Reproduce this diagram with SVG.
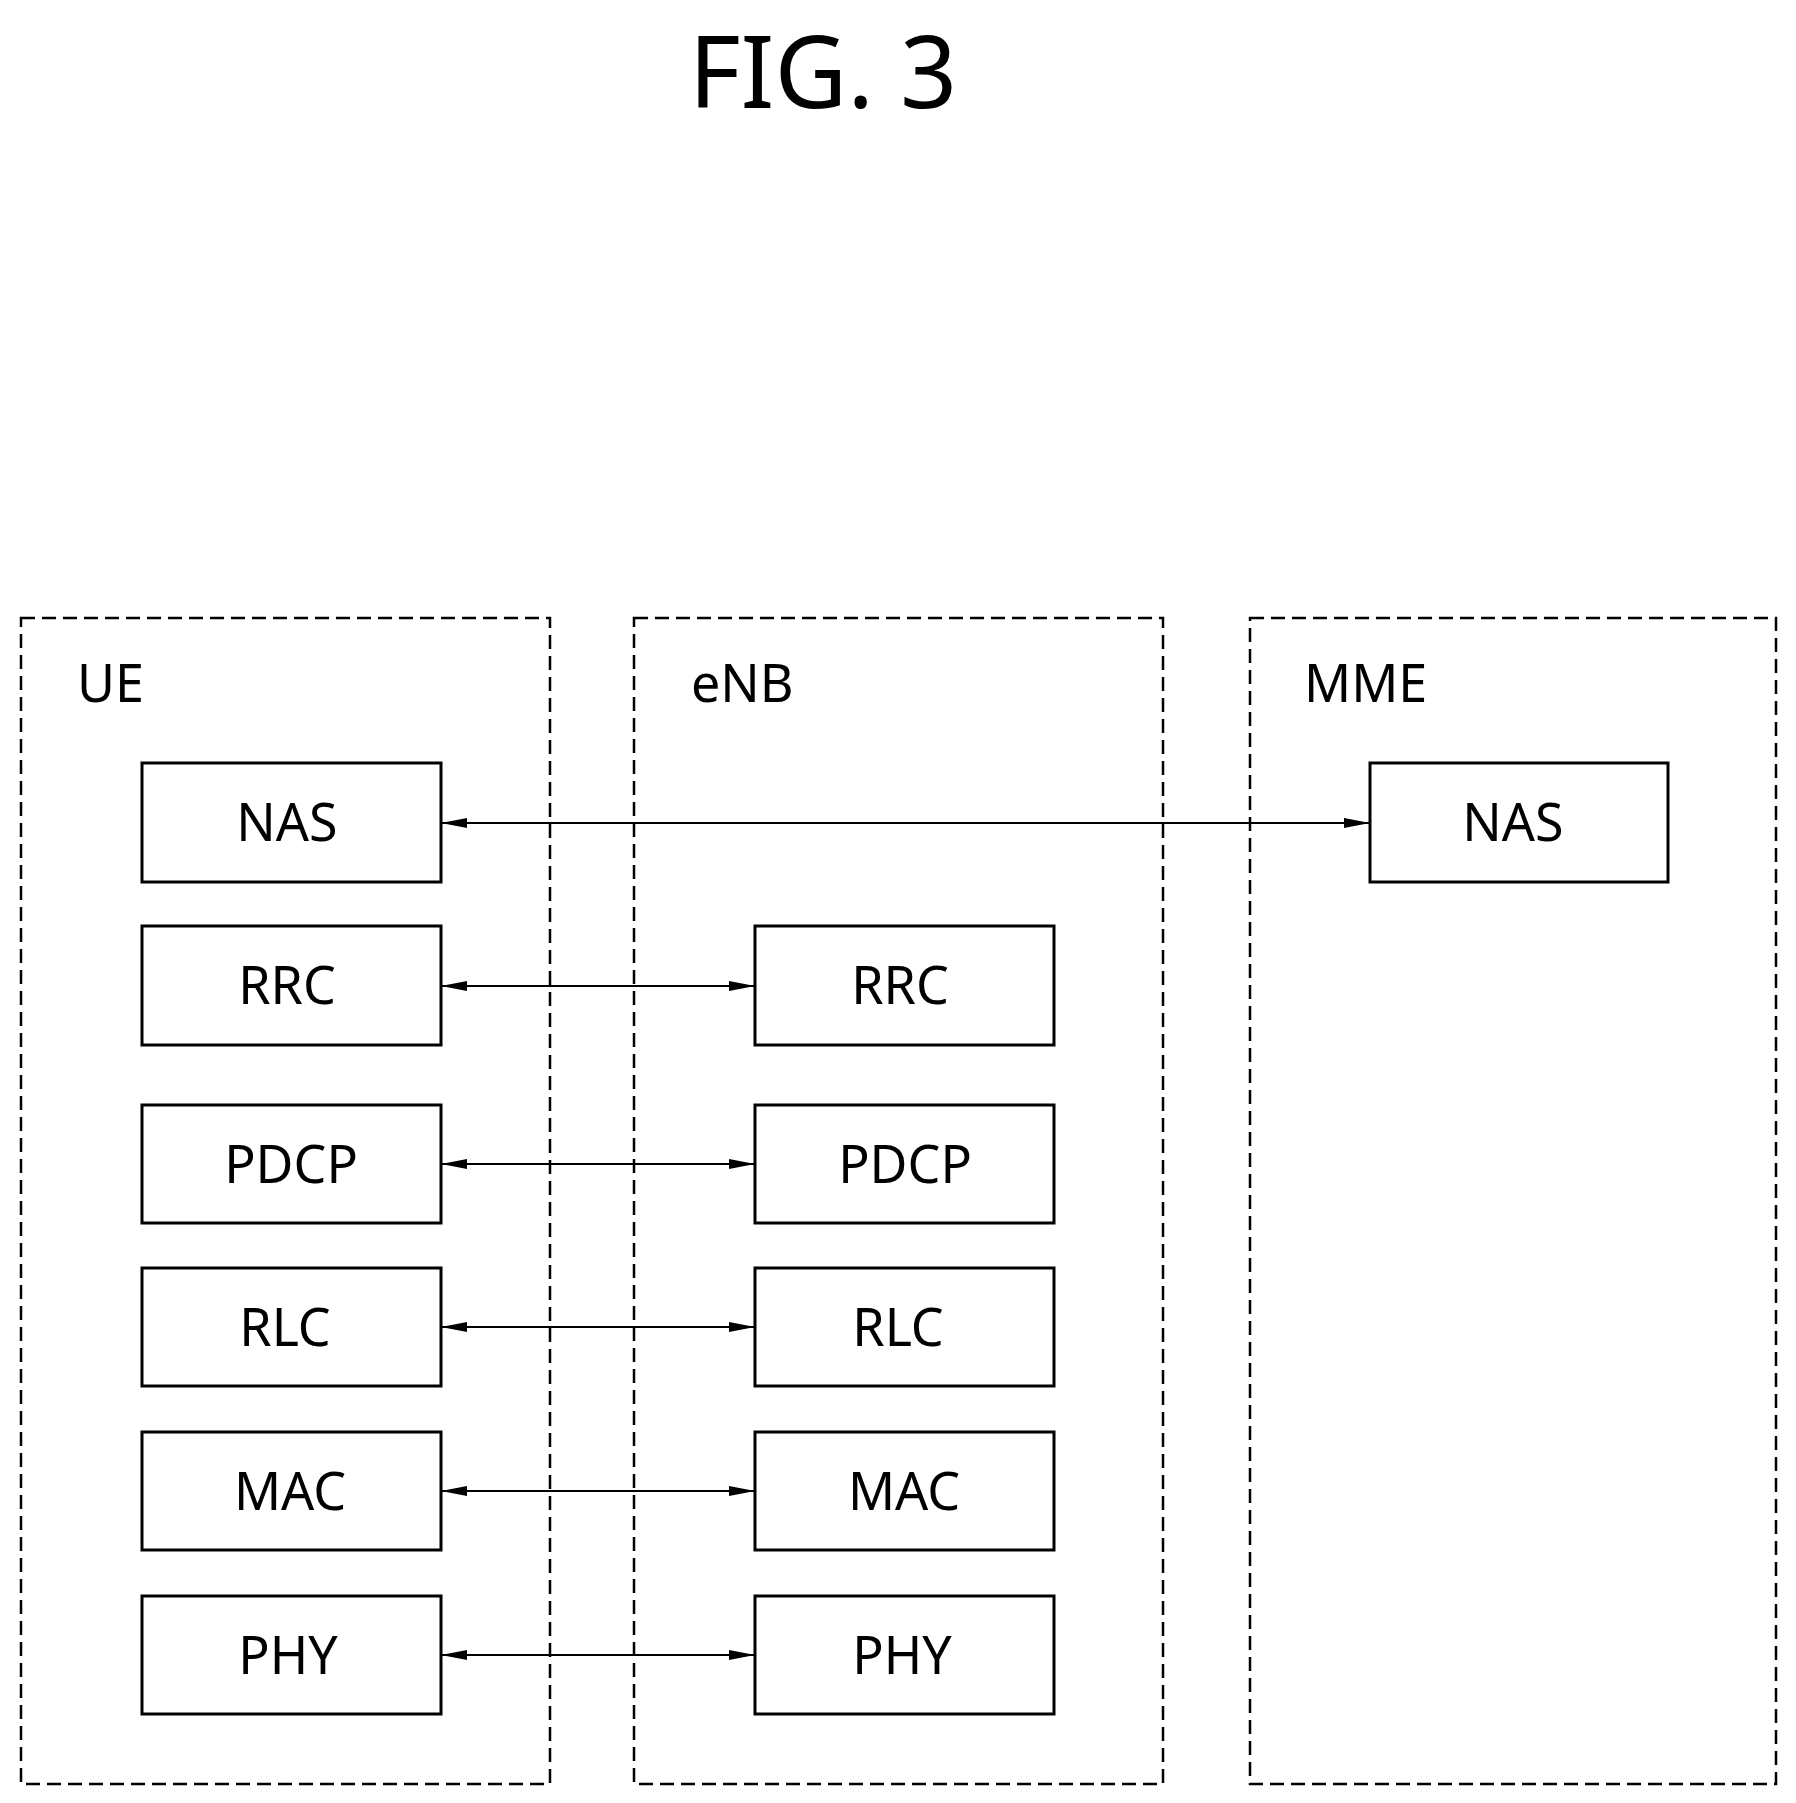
<svg xmlns="http://www.w3.org/2000/svg" width="1796" height="1803" viewBox="0 0 1796 1803">
<defs>
<style>
.outer{fill:none;stroke:#000;stroke-width:2.5;stroke-dasharray:14 7}
.box{fill:#fff;stroke:#000;stroke-width:3}
.t{font-family:"Noto Sans","Open Sans",sans-serif;font-size:52px;text-anchor:middle;fill:#000}
.l{font-family:"Noto Sans","Open Sans",sans-serif;font-size:52px;fill:#000}
.c{stroke:#000;stroke-width:2;fill:none;marker-start:url(#a);marker-end:url(#a)}
</style>
<marker id="a" viewBox="0 0 26 12" refX="26" refY="6" markerWidth="26" markerHeight="12" markerUnits="userSpaceOnUse" orient="auto-start-reverse"><path d="M0,1 L26,6 L0,11 Z" fill="#000"/></marker>
</defs>
<rect width="1796" height="1803" fill="#fff"/>
<text x="823" y="108" style="font-family:'Noto Sans','Open Sans',sans-serif;font-size:100px;text-anchor:middle">FIG. 3</text>
<g id="UE"><rect class="outer" x="21" y="618" width="529" height="1166"/><text class="l" x="77" y="702">UE</text></g>
<g id="eNB"><rect class="outer" x="634" y="618" width="529" height="1166"/><text class="l" x="691" y="702">eNB</text></g>
<g id="MME"><rect class="outer" x="1250" y="618" width="526" height="1166"/><text class="l" x="1304" y="702">MME</text></g>
<g id="ue-nas"><rect class="box" x="142" y="763" width="299" height="119"/><text class="t" x="287" y="841">NAS</text></g>
<g id="ue-rrc"><rect class="box" x="142" y="926" width="299" height="119"/><text class="t" x="287" y="1004">RRC</text></g>
<g id="ue-pdcp"><rect class="box" x="142" y="1105" width="299" height="118"/><text class="t" x="291" y="1183">PDCP</text></g>
<g id="ue-rlc"><rect class="box" x="142" y="1268" width="299" height="118"/><text class="t" x="285" y="1346">RLC</text></g>
<g id="ue-mac"><rect class="box" x="142" y="1432" width="299" height="118"/><text class="t" x="290" y="1510">MAC</text></g>
<g id="ue-phy"><rect class="box" x="142" y="1596" width="299" height="118"/><text class="t" x="288" y="1674">PHY</text></g>
<g id="enb-rrc"><rect class="box" x="755" y="926" width="299" height="119"/><text class="t" x="900" y="1004">RRC</text></g>
<g id="enb-pdcp"><rect class="box" x="755" y="1105" width="299" height="118"/><text class="t" x="905" y="1183">PDCP</text></g>
<g id="enb-rlc"><rect class="box" x="755" y="1268" width="299" height="118"/><text class="t" x="898" y="1346">RLC</text></g>
<g id="enb-mac"><rect class="box" x="755" y="1432" width="299" height="118"/><text class="t" x="904" y="1510">MAC</text></g>
<g id="enb-phy"><rect class="box" x="755" y="1596" width="299" height="118"/><text class="t" x="902" y="1674">PHY</text></g>
<g id="mme-nas"><rect class="box" x="1370" y="763" width="298" height="119"/><text class="t" x="1513" y="841">NAS</text></g>
<g id="connectors">
<line class="c" x1="441" y1="823" x2="1370" y2="823"/>
<line class="c" x1="441" y1="986" x2="755" y2="986"/>
<line class="c" x1="441" y1="1164" x2="755" y2="1164"/>
<line class="c" x1="441" y1="1327" x2="755" y2="1327"/>
<line class="c" x1="441" y1="1491" x2="755" y2="1491"/>
<line class="c" x1="441" y1="1655" x2="755" y2="1655"/>
</g>
</svg>
